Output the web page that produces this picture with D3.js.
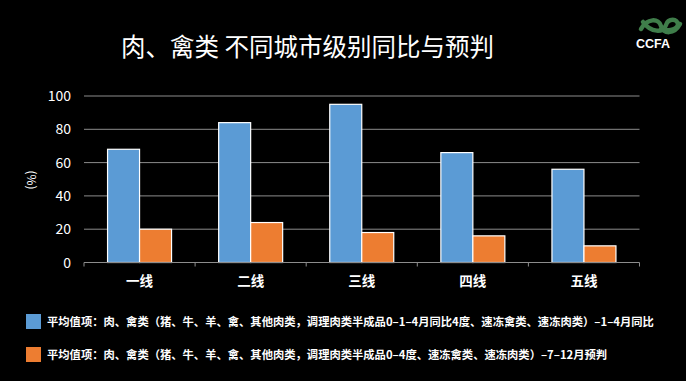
<!DOCTYPE html>
<html><head><meta charset="utf-8">
<script src="https://cdn.jsdelivr.net/npm/d3@7"></script>
<style>html,body{margin:0;padding:0;background:#000;}svg{display:block;}</style>
</head><body>
<script>
const categories = ["一线","二线","三线","四线","五线"];
const seriesNames = [
  "平均值项：肉、禽类（猪、牛、羊、禽、其他肉类，调理肉类半成品0–1–4月同比4度、速冻禽类、速冻肉类）–1–4月同比",
  "平均值项：肉、禽类（猪、牛、羊、禽、其他肉类，调理肉类半成品0–4度、速冻禽类、速冻肉类）–7–12月预判"
];
const blueValues = [68, 84, 95, 66, 56];
const orangeValues = [20, 24, 18, 16, 10];
const yTicks = [0, 20, 40, 60, 80, 100];
const titleText = "肉、禽类 不同城市级别同比与预判";
const colors = ["#5B9BD5", "#ED7D31"];

const W = 686, H = 381;
const svg = d3.select("body").append("svg").attr("width", W).attr("height", H);
svg.append("rect").attr("width", W).attr("height", H).attr("fill", "#000");
const font = "'Noto Sans CJK SC','Noto Sans',sans-serif";

svg.append("text").attr("x", 121).attr("y", 56).attr("fill", "#fff")
  .attr("font-family", font).attr("font-size", 24.5).text(titleText);

// logo
const logo = svg.append("g").attr("transform", "translate(637,16)");
logo.append("path").attr("d", "M4,13 C10,2 22,2 24,10 C26,18 37,19 43,8 M6,6 C14,17 27,17 29,9 C31,2 41,2 41,9 C39,15 29,15 24,13")
  .attr("fill", "none").attr("stroke", "#3f7d4a").attr("stroke-width", 4.5).attr("stroke-linecap", "round");
logo.append("text").attr("x", -1).attr("y", 32).attr("fill", "#fff").attr("font-family", "Liberation Sans, Arial, sans-serif")
  .attr("font-weight", "bold").attr("font-size", 12.5).text("CCFA");

const x0 = d3.scaleBand().domain(categories).range([84, 639.5]).paddingInner(0).paddingOuter(0);
const y = d3.scaleLinear().domain([0, 100]).range([262.5, 96]);
const barW = 32;

// gridlines
svg.append("g").selectAll("line").data(yTicks.filter(d => d > 0)).join("line")
  .attr("x1", 84).attr("x2", 639.5).attr("y1", d => y(d)).attr("y2", d => y(d))
  .attr("stroke", "#8c8c8c").attr("stroke-width", 1);

// y labels
svg.append("g").selectAll("text").data(yTicks).join("text")
  .attr("x", 71).attr("y", d => y(d) + 5).attr("text-anchor", "end")
  .attr("fill", "#fff").attr("font-family", font).attr("font-size", 14).text(d => d);

svg.append("text").attr("transform", "translate(27,180) rotate(90)")
  .attr("text-anchor", "middle").attr("fill", "#fff").attr("font-family", font).attr("font-size", 12).text("(%)");

// bars
const groups = svg.append("g").selectAll("g").data(categories).join("g");
groups.append("rect")
  .attr("x", (d) => x0(d) + x0.bandwidth() / 2 - barW)
  .attr("y", (d, i) => y(blueValues[i]))
  .attr("width", barW).attr("height", (d, i) => y(0) - y(blueValues[i]))
  .attr("fill", colors[0]).attr("stroke", "#fff").attr("stroke-width", 1.2);
groups.append("rect")
  .attr("x", (d) => x0(d) + x0.bandwidth() / 2)
  .attr("y", (d, i) => y(orangeValues[i]))
  .attr("width", barW).attr("height", (d, i) => y(0) - y(orangeValues[i]))
  .attr("fill", colors[1]).attr("stroke", "#fff").attr("stroke-width", 1.2);

// x axis
const ax = svg.append("g").attr("transform", `translate(0,${y(0)})`);
ax.append("line").attr("x1", 84).attr("x2", 639.5).attr("stroke", "#8c8c8c").attr("stroke-width", 1);
const bounds = categories.map(c => x0(c)).concat([x0(categories[categories.length - 1]) + x0.bandwidth()]);
ax.selectAll("line.t").data(bounds).join("line").attr("class", "t")
  .attr("x1", d => d).attr("x2", d => d).attr("y1", 0).attr("y2", 4).attr("stroke", "#8c8c8c");
ax.selectAll("text").data(categories).join("text")
  .attr("x", d => x0(d) + x0.bandwidth() / 2).attr("y", 23).attr("text-anchor", "middle")
  .attr("fill", "#fff").attr("font-family", font).attr("font-weight", "bold").attr("font-size", 13.5).text(d => d);

// legend
const lg = svg.append("g").selectAll("g").data(seriesNames).join("g")
  .attr("transform", (d, i) => `translate(26,${314 + i * 33})`);
lg.append("rect").attr("width", 15).attr("height", 15).attr("fill", (d, i) => colors[i]);
lg.append("text").attr("x", 21).attr("y", 12).attr("fill", "#fff").attr("font-family", font)
  .attr("font-weight", "bold").attr("font-size", 11.3).text(d => d);
</script>
</body></html>
